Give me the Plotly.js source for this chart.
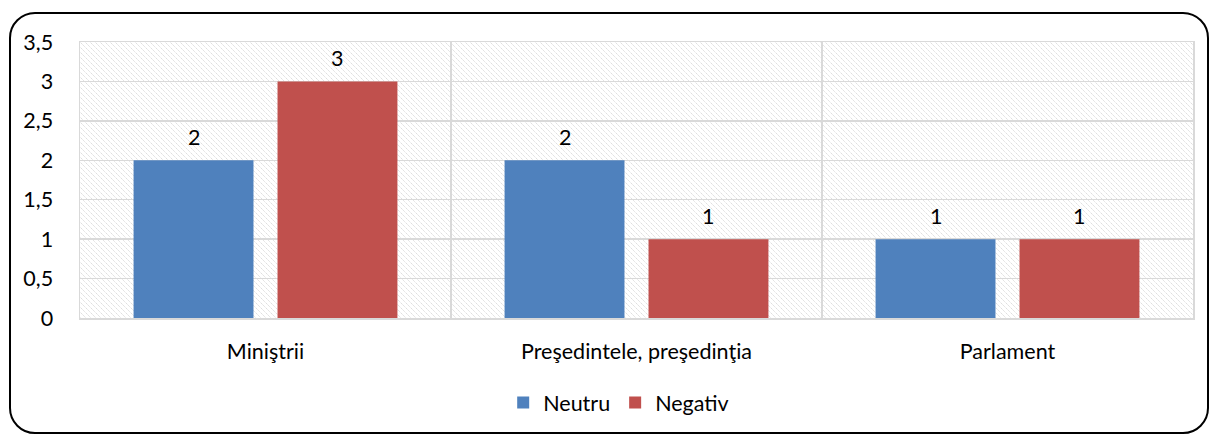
<!DOCTYPE html>
<html>
<head>
<meta charset="utf-8">
<script src="https://cdn.plot.ly/plotly-3.0.1.min.js"></script>
<style>
html,body{margin:0;padding:0;background:#fff;}
#wrap{position:relative;width:1216px;height:435px;overflow:hidden;}
#chart{position:absolute;left:0;top:0;width:1216px;height:435px;}
#frame{position:absolute;left:9px;top:12px;width:1196px;height:418px;border:2.5px solid #000;border-radius:26px;pointer-events:none;}
</style>
</head>
<body>
<div id="wrap">
<div id="chart"></div>
<div id="frame"></div>
</div>
<script>
const categories = ["Miniştrii", "Preşedintele, preşedinţia", "Parlament"];
const neutru = [2, 2, 1];
const negativ = [3, 1, 1];
const seriesNames = ["Neutru", "Negativ"];
const seriesColors = ["#4F81BD", "#C0504D"];
const seriesValues = [neutru, negativ];

const BARGAP = 0.224;
const hatch = '<svg xmlns="http://www.w3.org/2000/svg" width="1113" height="276">' +
  '<defs><pattern id="p" width="5" height="5" patternUnits="userSpaceOnUse">' +
  '<path d="M-1,-1 L6,6 M-1,4 L1,6 M4,-1 L6,1" stroke="#dadada" stroke-width="1" stroke-dasharray="2,1"/>' +
  '</pattern></defs><rect width="100%" height="100%" fill="url(#p)"/></svg>';
const hatchURI = 'data:image/svg+xml;charset=utf-8,' + encodeURIComponent(hatch);

const font = "Lato, 'Open Sans', sans-serif";
const FS = 21.5;

const traces = seriesNames.map((n, i) => ({
  type:'bar', name:n, x:categories, y:seriesValues[i],
  marker:{color:seriesColors[i]}, hoverinfo:'none'
}));

// data labels, placed at each bar's value through the axes
const annotations = [];
seriesValues.forEach((vals, i) => {
  const off = (i - 0.5) * (1 - BARGAP) / 2;
  vals.forEach((v, j) => {
    annotations.push({x: j + off, y: v, xref:'x', yref:'y', text: String(v),
      showarrow:false, yanchor:'middle', yshift:23, font:{size:FS, family:font, color:'#000'}});
  });
});

const layout = {
  width:1216, height:435,
  margin:{l:80, r:23, t:42, b:117},
  paper_bgcolor:'rgba(0,0,0,0)', plot_bgcolor:'rgba(0,0,0,0)',
  font:{family:font, size:FS, color:'#000'},
  separators:',.',
  barmode:'group', bargap:BARGAP, bargroupgap:0.167,
  showlegend:true,
  legend:{orientation:'h', x:0.484, xanchor:'center', y:-0.232, yanchor:'top',
          font:{size:FS, family:font}, itemwidth:20, traceorder:'normal'},
  xaxis:{type:'category', tickson:'boundaries', showgrid:true, gridcolor:'#d9d9d9', gridwidth:1.5,
         showline:true, linecolor:'#d9d9d9', linewidth:1.5, mirror:true,
         ticks:'', ticklabelstandoff:14, tickfont:{size:FS, family:font}, fixedrange:true},
  yaxis:{range:[0,3.5], dtick:0.5, showgrid:true, gridcolor:'#d9d9d9', gridwidth:1.5,
         showline:true, linecolor:'#d9d9d9', linewidth:1.5, mirror:true, zeroline:false,
         ticks:'', ticklabelstandoff:21, tickfont:{size:FS, family:font}, fixedrange:true},
  annotations: annotations,
  images:[{source:hatchURI, xref:'paper', yref:'paper', x:0, y:1, sizex:1, sizey:1,
           xanchor:'left', yanchor:'top', sizing:'stretch', layer:'below'}]
};

Plotly.newPlot('chart', traces, layout, {displayModeBar:false, staticPlot:true});
</script>
</body>
</html>
